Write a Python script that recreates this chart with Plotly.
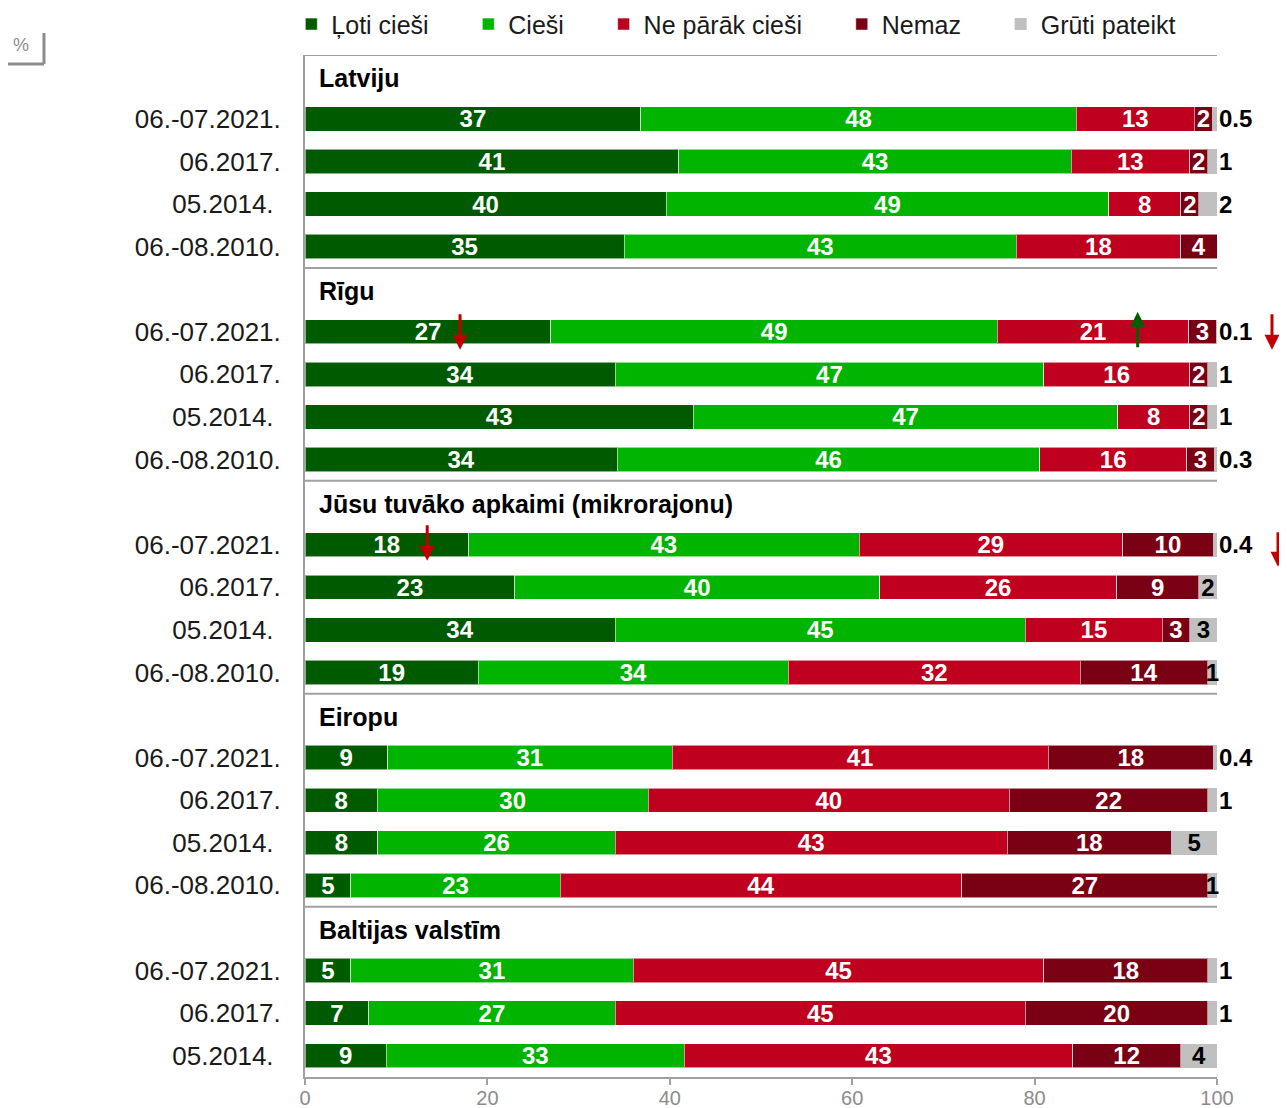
import plotly.graph_objects as go

# ---------------- data ----------------
groups = ["Latviju", "Rīgu", "Jūsu tuvāko apkaimi (mikrorajonu)", "Eiropu", "Baltijas valstīm"]
periods = [
    ["06.-07.2021.", "06.2017.", "05.2014.", "06.-08.2010."],
    ["06.-07.2021.", "06.2017.", "05.2014.", "06.-08.2010."],
    ["06.-07.2021.", "06.2017.", "05.2014.", "06.-08.2010."],
    ["06.-07.2021.", "06.2017.", "05.2014.", "06.-08.2010."],
    ["06.-07.2021.", "06.2017.", "05.2014."],
]
series_names = ["Ļoti cieši", "Cieši", "Ne pārāk cieši", "Nemaz", "Grūti pateikt"]

loti_ciesi = [37, 41, 40, 35, 27, 34, 43, 34, 18, 23, 34, 19, 9, 8, 8, 5, 5, 7, 9]
ciesi = [48, 43, 49, 43, 49, 47, 47, 46, 43, 40, 45, 34, 31, 30, 26, 23, 31, 27, 33]
ne_parak_ciesi = [13, 13, 8, 18, 21, 16, 8, 16, 29, 26, 15, 32, 41, 40, 43, 44, 45, 45, 43]
nemaz = [2, 2, 2, 4, 3, 2, 2, 3, 10, 9, 3, 14, 18, 22, 18, 27, 18, 20, 12]
gruti_pateikt = [0.5, 1, 2, 0, 0.1, 1, 1, 0.3, 0.4, 2, 3, 1, 0.4, 1, 5, 1, 1, 1, 4]

x_ticks = [0, 20, 40, 60, 80, 100]

# ---------------- styling ----------------
colors = ["#005a00", "#00b400", "#bf001e", "#7a0014", "#c0c0c0"]
FONT = "Liberation Sans, Arial, sans-serif"
NBSP = "\u00a0"
LEGEND_PAD = NBSP * 5

# grey labels that sit inside their grey segment
grey_inside = {
    (2, "06.2017."), (2, "05.2014."), (2, "06.-08.2010."),
    (3, "05.2014."), (3, "06.-08.2010."), (4, "05.2014."),
}

# ---------------- build categories ----------------
cat_order = []
row_keys = []
row_text = []
row_group = []
header_keys = []
for gi, (g, ps) in enumerate(zip(groups, periods)):
    hk = f"{g}|"
    cat_order.append(hk)
    header_keys.append(hk)
    for p in ps:
        k = f"{g}|{p}"
        cat_order.append(k)
        row_keys.append(k)
        row_text.append(p + (NBSP if p == "05.2014." else ""))
        row_group.append((gi, p))

raw = [loti_ciesi, ciesi, ne_parak_ciesi, nemaz, gruti_pateikt]
totals = [sum(s[i] for s in raw) for i in range(len(row_keys))]
shares = [[v / t * 100 for v, t in zip(vals, totals)] for vals in raw]  # 100% stacked


def fmt(v):
    if v == 0:
        return ""
    return str(int(v)) if float(v).is_integer() else str(v)


annotations = []
fig = go.Figure()
for si, (name, vals, col) in enumerate(zip(series_names, raw, colors)):
    xs = shares[si]
    legend_name = name + (LEGEND_PAD if si < 4 else "")
    if si < 4:
        fig.add_trace(go.Bar(
            y=row_keys, x=xs, name=legend_name, orientation="h",
            marker=dict(color=col, line=dict(color="rgba(255,255,255,0.55)", width=1)),
            text=[fmt(v) for v in vals], textposition="inside",
            insidetextanchor="middle", textangle=0, constraintext="none",
            insidetextfont=dict(family=FONT, size=24, color="white", weight="bold"),
            hoverinfo="skip",
        ))
    else:
        inside = [rg in grey_inside for rg in row_group]
        fig.add_trace(go.Bar(
            y=row_keys, x=xs, name=legend_name, orientation="h",
            marker=dict(color=col, line=dict(width=0)),
            text=[fmt(v) if ins else "" for v, ins in zip(vals, inside)],
            textposition="inside", insidetextanchor="middle", textangle=0,
            constraintext="none", cliponaxis=False,
            insidetextfont=dict(family=FONT, size=24, color="black", weight="bold"),
            hoverinfo="skip",
        ))
        # labels placed just past the end of each stacked bar
        for rk, v, ins, row_i in zip(row_keys, vals, inside, range(len(row_keys))):
            if ins or v == 0:
                continue
            end = sum(shares[k][row_i] for k in range(len(raw)))
            annotations.append(dict(
                x=end, y=rk, xref="x", yref="y", text=f"<b>{fmt(v)}</b>",
                showarrow=False, xanchor="left", yanchor="middle", xshift=0,
                font=dict(family=FONT, size=24, color="black"),
            ))

# group headers
for g, hk in zip(groups, header_keys):
    annotations.append(dict(
        x=0, y=hk, xref="x", yref="y", text=f"<b>{g}</b>", showarrow=False,
        xanchor="left", yanchor="middle", xshift=12, yshift=-2,
        font=dict(family=FONT, size=25, color="black"),
    ))

# arrows
rk_riga = f"{groups[1]}|06.-07.2021."
rk_apk = f"{groups[2]}|06.-07.2021."
arrow_common = dict(text="", showarrow=True, arrowhead=2, arrowsize=1, arrowwidth=3, ax=0)
annotations += [
    dict(x=17.0, y=rk_riga, xref="x", yref="y", yshift=-18, ay=-37, arrowcolor="#c00000", **arrow_common),
    dict(x=91.3, y=rk_riga, xref="x", yref="y", yshift=20, ay=37, arrowcolor="#006000", **arrow_common),
    dict(x=1.0603, y=rk_riga, xref="paper", yref="y", yshift=-18, ay=-37, arrowcolor="#c00000", **arrow_common),
    dict(x=13.4, y=rk_apk, xref="x", yref="y", yshift=-16, ay=-37, arrowcolor="#c00000", **arrow_common),
    dict(x=1.0669, y=rk_apk, xref="paper", yref="y", yshift=-22, ay=-36, arrowcolor="#c00000", **arrow_common),
]

# "%" label
annotations.append(dict(
    x=-0.3114, y=1.0098, xref="paper", yref="paper", text="%", showarrow=False,
    font=dict(family=FONT, size=18, color="#8c8c8c"), xanchor="center", yanchor="middle",
))

shapes = []
# separators between groups and the top rule
n_cat = len(cat_order)
sep_positions = [-0.5]
idx = 0
for ps in periods[:-1]:
    idx += 1 + len(ps)
    sep_positions.append(idx - 0.5)
for yp in sep_positions:
    shapes.append(dict(type="line", xref="x", yref="y", x0=0, x1=100, y0=yp, y1=yp,
                       line=dict(color="#a0a0a0", width=2)))
# % box corner
shapes.append(dict(type="line", xref="paper", yref="paper", x0=-0.3257, x1=-0.2862,
                   y0=0.9912, y1=0.9912, line=dict(color="#8c8c8c", width=3)))
shapes.append(dict(type="line", xref="paper", yref="paper", x0=-0.2862, x1=-0.2862,
                   y0=0.9912, y1=1.0215, line=dict(color="#8c8c8c", width=3)))

fig.update_layout(
    width=1279, height=1100,
    margin=dict(l=297, r=70, t=47, b=31, autoexpand=False),
    barmode="stack", bargap=0.43,
    plot_bgcolor="white", paper_bgcolor="white",
    font=dict(family=FONT, size=25, color="#1a1a1a"),
    showlegend=True,
    legend=dict(orientation="h", x=-0.015, xanchor="left", y=1.03, yanchor="middle",
                font=dict(family=FONT, size=25, color="#1a1a1a"), traceorder="normal",
                itemclick=False, itemdoubleclick=False),
    annotations=annotations,
    shapes=shapes,
)
fig.update_yaxes(
    type="category", categoryorder="array", categoryarray=cat_order,
    range=[n_cat - 0.5, -0.5],
    tickmode="array", tickvals=row_keys, ticktext=row_text,
    showline=True, linecolor="#a0a0a0", linewidth=2,
    ticks="", showgrid=False, ticklabelstandoff=17,
    tickfont=dict(family=FONT, size=26, color="#1a1a1a"),
)
fig.update_xaxes(
    range=[0, 100], tickvals=x_ticks, showgrid=False, zeroline=False,
    showline=True, linecolor="#a0a0a0", linewidth=2,
    ticks="outside", ticklen=6, tickcolor="#a0a0a0", tickwidth=2,
    ticklabelstandoff=-4,
    tickfont=dict(family=FONT, size=20, color="#8c8c8c"),
)

fig.write_html("out.html")
